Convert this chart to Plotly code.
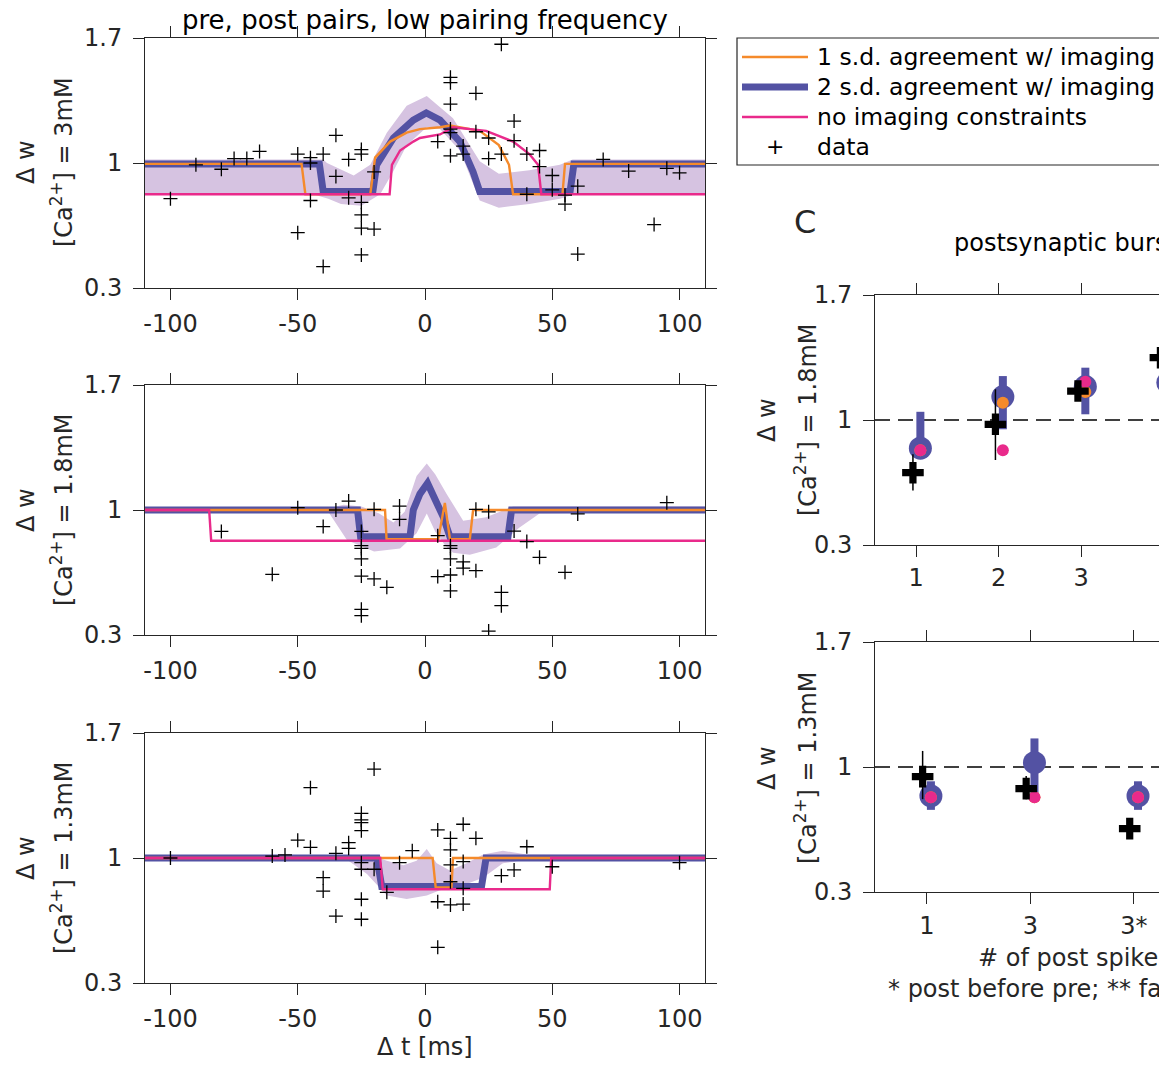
import plotly.graph_objects as go

# page body has an 8px margin; the figure is sized to fit the window exactly inside it
OFF = 8
W, H = 1167 - OFF, 1069 - 2 * OFF
FONT = "DejaVu Sans"
INK = "#262626"
ORANGE = "#F58A2B"
BLUE = "#5352A3"
PINK = "#E92A8B"
BAND = "#D6C3E1"

# ====================== DATA ======================
# ---- left column: pre/post pairs, x = Δt [ms], y = Δw ----
x_ticks_left = [-100, -50, 0, 50, 100]
x_ticklabels_left = ["-100", "-50", "0", "50", "100"]
y_ticks = [0.3, 1, 1.7]
y_ticklabels = ["0.3", "1", "1.7"]

# [Ca2+] = 3 mM
t_data_3 = [-100, -90, -80, -75, -70, -65, -50, -50, -45, -45, -45, -40, -40, -35, -35, -30, -30,
            -25, -25, -25, -25, -25, -25, -20, -20, 5, 10, 10, 10, 10, 10, 10, 15, 15, 20, 20,
            25, 25, 30, 30, 35, 35, 40, 40, 45, 45, 50, 50, 55, 55, 60, 60, 70, 80, 90, 95, 100]
w_data_3 = [0.80, 0.99, 0.965, 1.025, 1.025, 1.065, 0.61, 1.05, 1.03, 1.0, 0.79, 1.05, 0.42, 1.155, 0.925,
            1.02, 0.805, 1.075, 1.05, 0.78, 0.71, 0.635, 0.485, 0.63, 0.95, 1.12, 1.48, 1.45, 1.33,
            1.19, 1.17, 1.04, 1.095, 1.05, 1.39, 1.175, 1.14, 1.025, 1.665, 1.05, 1.235, 1.125,
            1.05, 0.825, 1.07, 0.98, 0.93, 0.85, 0.82, 0.77, 0.87, 0.49, 1.02, 0.955, 0.655, 0.97, 0.945]
t_sd2_3 = [-110, -41.5, -40, -20.5, -19, -12.4, -4.6, 0.5, 5.9, 13.7, 18.9, 21.5, 57, 58.5, 110]
w_sd2_3 = [0.995, 0.995, 0.84, 0.84, 0.99, 1.14, 1.24, 1.28, 1.24, 1.12, 0.95, 0.84, 0.84, 0.995, 0.995]
t_sd1_3 = [-110, -48.5, -47, -21.5, -19.6, -13.7, -7.2, -2, 5.9, 9.8, 21.5, 29, 33, 34.6, 54, 55, 110]
w_sd1_3 = [0.995, 0.995, 0.825, 0.825, 1.03, 1.12, 1.17, 1.19, 1.2, 1.21, 1.18, 1.10, 0.99, 0.825, 0.825, 0.995, 0.995]
t_free_3 = [-110, -13.9, -13, -9.8, -4.6, -2, 5.9, 11, 24, 34.6, 41, 44.4, 45.7, 110]
w_free_3 = [0.825, 0.825, 0.99, 1.07, 1.12, 1.14, 1.16, 1.20, 1.18, 1.12, 1.05, 0.99, 0.825, 0.825]
t_band_hi_3 = [-110, -40, -38.5, -28, -21.5, -15, -7.2, 0.7, 11, 21.5, 29, 41, 53, 58, 110]
w_band_hi_3 = [1.02, 1.02, 1.0, 0.93, 0.99, 1.17, 1.32, 1.375, 1.25, 1.01, 0.94, 0.96, 0.99, 1.02, 1.02]
t_band_lo_3 = [-110, -44, -38, -33, -25, -17.6, -12.4, -7.2, 0.7, 5.9, 13.7, 18.9, 21.5, 29, 41, 53, 59, 110]
w_band_lo_3 = [0.825, 0.825, 0.80, 0.77, 0.76, 0.825, 0.955, 1.10, 1.20, 1.19, 1.07, 0.88, 0.79, 0.75, 0.77, 0.80, 0.825, 0.825]

# [Ca2+] = 1.8 mM
t_data_18 = [-80, -60, -50, -40, -35, -30, -25, -25, -25, -25, -25, -25, -25, -20, -20, -15, -10, -10,
             5, 5, 10, 10, 10, 10, 10, 15, 15, 20, 20, 25, 25, 30, 30, 35, 40, 45, 55, 60, 95]
w_data_18 = [0.88, 0.64, 1.013, 0.907, 1.0, 1.05, 0.88, 0.80, 0.785, 0.726, 0.63, 0.444, 0.408, 0.614, 1.004,
             0.567, 1.022, 0.948, 0.856, 0.627, 0.80, 0.785, 0.726, 0.636, 0.547, 0.71, 0.674, 1.004, 0.66,
             0.99, 0.322, 0.539, 0.464, 0.882, 0.823, 0.735, 0.651, 0.978, 1.041]
t_sd2_18 = [-110, -26.5, -25.3, -5.9, -4.6, -2, 1, 3.3, 7.2, 9.8, 32.6, 34, 110]
w_sd2_18 = [1.0, 1.0, 0.85, 0.85, 1.0, 1.09, 1.15, 1.075, 0.96, 0.85, 0.85, 1.0, 1.0]
t_sd1_18 = [-110, -15.7, -15.1, 5.2, 7.8, 9.8, 17.6, 18.9, 110]
w_sd1_18 = [1.0, 1.0, 0.836, 0.836, 1.04, 0.836, 0.836, 1.0, 1.0]
t_free_18 = [-110, -84.8, -84, 110]
w_free_18 = [1.0, 1.0, 0.828, 0.828]
t_band_hi_18 = [-110, -38, -32, -25, -18, -12.4, -8, -3.3, 0.7, 4, 8.5, 15, 24, 34.6, 45, 110]
w_band_hi_18 = [1.01, 1.01, 1.03, 1.02, 0.98, 0.93, 0.99, 1.19, 1.26, 1.2, 1.09, 0.94, 0.96, 1.02, 1.02, 1.02]
t_band_lo_18 = [-110, -38, -30.6, -20, -9.8, -3.3, 0.7, 4, 8, 11, 17.6, 28, 37, 45, 110]
w_band_lo_18 = [0.99, 0.99, 0.83, 0.767, 0.785, 0.87, 0.98, 0.88, 0.80, 0.76, 0.75, 0.79, 0.90, 0.98, 0.99]

# [Ca2+] = 1.3 mM
t_data_13 = [-100, -60, -55, -50, -45, -45, -40, -40, -35, -35, -30, -30, -25, -25, -25, -25, -25, -25,
             -25, -25, -20, -20, -15, -10, -5, 5, 5, 5, 10, 10, 10, 10, 10, 15, 15, 15, 15, 20, 30,
             35, 40, 50, 100]
w_data_13 = [1.0, 1.011, 1.017, 1.10, 1.394, 1.06, 0.89, 0.815, 1.026, 0.675, 1.086, 1.054, 1.25, 1.213,
             1.198, 1.153, 0.974, 0.937, 0.769, 0.657, 1.498, 0.937, 0.808, 0.974, 1.041, 1.157, 0.755,
             0.50, 1.11, 1.045, 0.961, 0.867, 0.737, 1.189, 0.98, 0.83, 0.742, 1.11, 0.901, 0.933,
             1.063, 0.951, 0.974]
t_sd2_13 = [-110, -18.9, -17, 22.2, 24, 110]
w_sd2_13 = [1.0, 1.0, 0.84, 0.84, 1.0, 1.0]
t_sd1_13 = [-110, 3, 4.2, 10.4, 11, 110]
w_sd1_13 = [1.0, 1.0, 0.835, 0.835, 1.0, 1.0]
t_free_13 = [-110, -17.6, -16.6, 49, 49.6, 110]
w_free_13 = [1.0, 1.0, 0.825, 0.825, 1.0, 1.0]
t_band_hi_13 = [-110, -30.6, -22, -15, -8.5, -3.3, 0.7, 4.6, 9.8, 16.3, 22.8, 30.6, 40, 110]
w_band_hi_13 = [1.01, 1.01, 1.02, 0.985, 0.96, 0.985, 1.05, 0.97, 0.93, 0.97, 1.02, 1.04, 1.02, 1.015]
t_band_lo_13 = [-110, -30.6, -22.8, -15, -7.2, 0.7, 5.9, 13.7, 22.8, 30.6, 40, 110]
w_band_lo_13 = [0.99, 0.99, 0.91, 0.79, 0.77, 0.79, 0.82, 0.84, 0.89, 0.97, 0.99, 0.99]

# ---- right column: postsynaptic bursts ----
cat_top = [1, 2, 3, 4]
cat_top_labels = ["1", "2", "3", "4"]
data_top = [0.705, 0.976, 1.162, 1.349]
data_top_err_hi = [0.103, 0.196, 0.05, 0.12]
data_top_err_lo = [0.10, 0.20, 0.05, 0.13]
sd2_top = [0.842, 1.13, 1.187, 1.209]
sd2_top_hi = [1.046, 1.246, 1.293, 1.32]
sd2_top_lo = [0.80, 0.948, 1.032, 1.08]
sd1_top = [0.83, 1.097, 1.157, 1.181]
free_top = [0.83, 0.83, 1.214, 1.252]

cat_bot = [1, 2, 3]
cat_bot_labels = ["1", "3", "3*"]
data_bot = [0.946, 0.879, 0.655]
data_bot_err_hi = [0.144, 0.07, 0.02]
data_bot_err_lo = [0.126, 0.06, 0.02]
sd2_bot = [0.838, 1.024, 0.838]
sd2_bot_hi = [0.92, 1.16, 0.92]
sd2_bot_lo = [0.76, 0.83, 0.76]
sd1_bot = [0.83, 0.83, 0.83]
free_bot = [0.83, 0.83, 0.83]

# ====================== FIGURE ======================
def px(x):
    return (x - OFF) / W


def py(y):
    return 1 - (y - OFF) / H


fig = go.Figure()

left_panels = [
    dict(ax="", t=t_data_3, w=w_data_3, t2=t_sd2_3, w2=w_sd2_3, t1=t_sd1_3, w1=w_sd1_3,
         tf=t_free_3, wf=w_free_3, thi=t_band_hi_3, whi=w_band_hi_3, tlo=t_band_lo_3, wlo=w_band_lo_3),
    dict(ax="2", t=t_data_18, w=w_data_18, t2=t_sd2_18, w2=w_sd2_18, t1=t_sd1_18, w1=w_sd1_18,
         tf=t_free_18, wf=w_free_18, thi=t_band_hi_18, whi=w_band_hi_18, tlo=t_band_lo_18, wlo=w_band_lo_18),
    dict(ax="3", t=t_data_13, w=w_data_13, t2=t_sd2_13, w2=w_sd2_13, t1=t_sd1_13, w1=w_sd1_13,
         tf=t_free_13, wf=w_free_13, thi=t_band_hi_13, whi=w_band_hi_13, tlo=t_band_lo_13, wlo=w_band_lo_13),
]

for p in left_panels:
    xa, ya = "x" + p["ax"], "y" + p["ax"]
    fig.add_trace(go.Scatter(x=p["thi"] + p["tlo"][::-1], y=p["whi"] + p["wlo"][::-1],
                             fill="toself", fillcolor=BAND, line=dict(width=0), mode="lines",
                             hoverinfo="skip", xaxis=xa, yaxis=ya))
    fig.add_trace(go.Scatter(x=p["t2"], y=p["w2"], mode="lines", line=dict(color=BLUE, width=7),
                             xaxis=xa, yaxis=ya))
    fig.add_trace(go.Scatter(x=p["t1"], y=p["w1"], mode="lines", line=dict(color=ORANGE, width=2.4),
                             xaxis=xa, yaxis=ya))
    fig.add_trace(go.Scatter(x=p["tf"], y=p["wf"], mode="lines", line=dict(color=PINK, width=2.4),
                             xaxis=xa, yaxis=ya))
    fig.add_trace(go.Scatter(x=p["t"], y=p["w"], mode="markers",
                             marker=dict(symbol="cross-thin", size=10, line=dict(width=1.3, color="black")),
                             xaxis=xa, yaxis=ya))

right_panels = [
    dict(ax="4", cat=cat_top, d=data_top, dhi=data_top_err_hi, dlo=data_top_err_lo, m2=sd2_top,
         m2hi=sd2_top_hi, m2lo=sd2_top_lo, m1=sd1_top, mf=free_top, doff=-0.04, moff=0.05),
    dict(ax="5", cat=cat_bot, d=data_bot, dhi=data_bot_err_hi, dlo=data_bot_err_lo, m2=sd2_bot,
         m2hi=sd2_bot_hi, m2lo=sd2_bot_lo, m1=sd1_bot, mf=free_bot, doff=-0.04, moff=0.04),
]

for p in right_panels:
    xa, ya = "x" + p["ax"], "y" + p["ax"]
    xm = [c + p["moff"] for c in p["cat"]]
    xd = [c + p["doff"] for c in p["cat"]]
    fig.add_trace(go.Scatter(
        x=xm, y=p["m2"], mode="markers", marker=dict(color=BLUE, size=23),
        error_y=dict(type="data", symmetric=False,
                     array=[h - m for h, m in zip(p["m2hi"], p["m2"])],
                     arrayminus=[m - l for l, m in zip(p["m2lo"], p["m2"])],
                     color=BLUE, thickness=8, width=0),
        xaxis=xa, yaxis=ya))
    fig.add_trace(go.Scatter(x=xm, y=p["m1"], mode="markers", marker=dict(color=ORANGE, size=12),
                             xaxis=xa, yaxis=ya))
    fig.add_trace(go.Scatter(x=xm, y=p["mf"], mode="markers", marker=dict(color=PINK, size=12),
                             xaxis=xa, yaxis=ya))
    fig.add_trace(go.Scatter(
        x=xd, y=p["d"], mode="markers", marker=dict(symbol="cross", color="black", size=18, line=dict(width=0)),
        error_y=dict(type="data", symmetric=False, array=p["dhi"], arrayminus=p["dlo"],
                     color="black", thickness=1.5, width=0),
        xaxis=xa, yaxis=ya))

tickfont = dict(family=FONT, size=24, color=INK)
base_axis = dict(showline=True, linecolor=INK, linewidth=1, ticks="outside", ticklen=11, tickcolor=INK,
                 tickwidth=1, tickfont=tickfont, showgrid=False, zeroline=False, fixedrange=True,
                 automargin=False)

left_xdom = [px(145), px(705)]
left_ydoms = [[py(288), py(38)], [py(635), py(385)], [py(983), py(733)]]
layout = dict(width=W, height=H, margin=dict(l=0, r=0, t=0, b=0, autoexpand=False), plot_bgcolor="white",
              paper_bgcolor="white", showlegend=False, font=dict(family=FONT, color=INK))

for i, sfx in enumerate(["", "2", "3"]):
    layout["xaxis" + sfx] = dict(base_axis, domain=left_xdom, range=[-110, 110], tickvals=x_ticks_left,
                                 ticktext=x_ticklabels_left, mirror="ticks", anchor="y" + sfx,
                                 ticklabelstandoff=3)
    layout["yaxis" + sfx] = dict(base_axis, domain=left_ydoms[i], range=[0.3, 1.7], tickvals=y_ticks,
                                 ticktext=y_ticklabels, mirror="ticks", anchor="x" + sfx,
                                 ticklabelstandoff=6)

layout["xaxis4"] = dict(base_axis, domain=[px(875), 1], range=[0.5, 4.04], tickvals=cat_top,
                        ticktext=cat_top_labels, mirror="ticks", anchor="y4", ticklabelstandoff=0)
layout["yaxis4"] = dict(base_axis, domain=[py(545), py(295)], range=[0.3, 1.7], tickvals=y_ticks,
                        ticktext=y_ticklabels, mirror=False, anchor="x4", ticklabelstandoff=6)
layout["xaxis5"] = dict(base_axis, domain=[px(875), 1], range=[0.5, 3.32], tickvals=cat_bot,
                        ticktext=cat_bot_labels, mirror="ticks", anchor="y5", ticklabelstandoff=1)
layout["yaxis5"] = dict(base_axis, domain=[py(892), py(642)], range=[0.3, 1.7], tickvals=y_ticks,
                        ticktext=y_ticklabels, mirror=False, anchor="x5", ticklabelstandoff=6)

fig.update_layout(**layout)

shapes = []
for ax in ["4", "5"]:
    shapes.append(dict(type="line", xref="x" + ax + " domain", x0=0, x1=1, yref="y" + ax, y0=1, y1=1,
                       line=dict(color="black", width=1.4, dash="15px,8px"), layer="below"))

# legend box (manual)
shapes.append(dict(type="rect", xref="paper", yref="paper", x0=px(737), x1=px(1200), y0=py(165), y1=py(38),
                   line=dict(color=INK, width=1.2), fillcolor="white"))
for yy, col, wd in [(57, ORANGE, 2.4), (87, BLUE, 7), (117, PINK, 2.4)]:
    shapes.append(dict(type="line", xref="paper", yref="paper", x0=px(742), x1=px(808), y0=py(yy), y1=py(yy),
                       line=dict(color=col, width=wd)))
fig.update_layout(shapes=shapes)

ann = []


def text(x, y, s, size=24, xanchor="center", yanchor="middle", angle=0, color=INK):
    ann.append(dict(x=px(x), y=py(y), xref="paper", yref="paper", text=s, showarrow=False,
                    xanchor=xanchor, yanchor=yanchor, textangle=angle,
                    font=dict(family=FONT, size=size, color=color)))


legend_labels = ["1 s.d. agreement w/ imaging", "2 s.d. agreement w/ imaging", "no imaging constraints", "data"]
for yy, lab in zip([57, 87, 117, 147], legend_labels):
    text(815, yy, lab, size=23.5, xanchor="left", color="black")
text(775, 147, "+", size=22, color="black")

text(425, 20, "pre, post pairs, low pairing frequency", size=26, color="black")
for yc, lab in [(162, "3mM"), (510, "1.8mM"), (858, "1.3mM")]:
    text(26, yc, "Δ w", angle=-90)
    text(62, yc, "[Ca<sup>2+</sup>] = " + lab, angle=-90)
for yc, lab in [(420, "1.8mM"), (768, "1.3mM")]:
    text(767, yc, "Δ w", angle=-90)
    text(806, yc, "[Ca<sup>2+</sup>] = " + lab, angle=-90)
text(425, 1047, "Δ t [ms]")
text(805, 222, "C", size=32)
text(22, 1052, "B", size=32, yanchor="top")
text(952, 243, "postsynaptic bursts", xanchor="left", color="black")
text(976, 958, "# of post spikes", xanchor="left")
text(886, 989, "* post before pre; ** fast", xanchor="left")
fig.update_layout(annotations=ann)

fig.write_html("out.html")
